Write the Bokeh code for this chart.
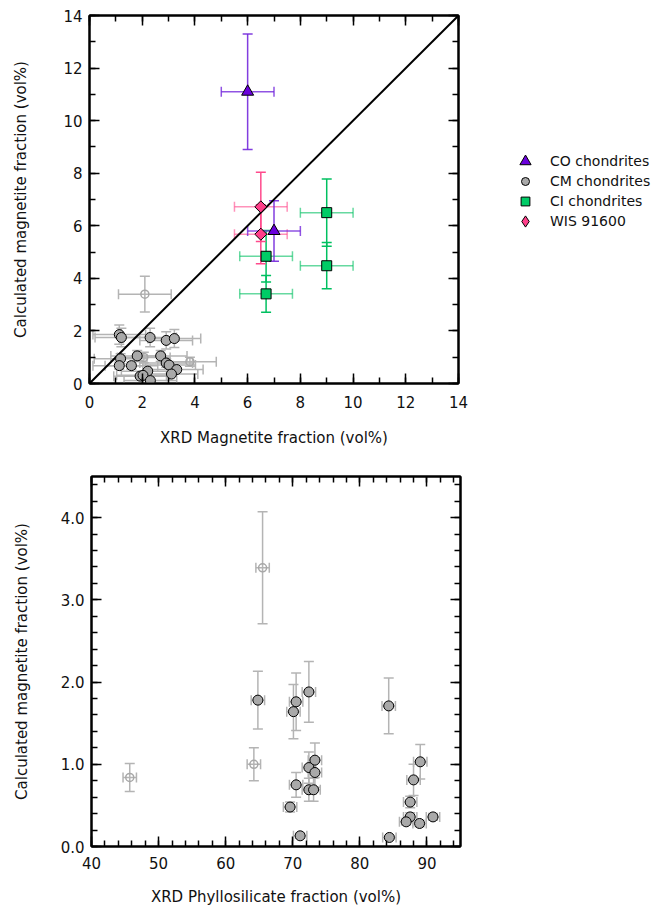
import numpy as np
from bokeh.plotting import figure
from bokeh.models import (ColumnDataSource, Whisker, TeeHead, LinearAxis, SingleIntervalTicker,
                          Legend, LegendItem, Range1d, PrintfTickFormatter, CustomJSTickFormatter)
from bokeh.layouts import column, row
from bokeh.embed import file_html
from bokeh.resources import INLINE

# ---------------- Top panel: XRD magnetite vs calculated magnetite (vol%) ----------------
co_x = [6.0, 7.0]
co_y = [11.1, 5.8]
co_xerr = [1.0, 1.0]
co_yerr = [2.2, 1.15]

ci_x = [9.0, 9.0, 6.7, 6.7]
ci_y = [6.5, 4.48, 4.84, 3.41]
ci_xerr = [1.0, 1.0, 1.0, 1.0]
ci_yerr = [1.28, 0.88, 0.98, 0.70]

wis_x = [6.5, 6.5]
wis_y = [6.72, 5.68]
wis_xerr = [1.0, 1.0]
wis_yerr = [1.32, 1.12]

cm_x = [1.13, 1.21, 2.30, 2.91, 3.22, 1.18, 1.13, 1.59, 1.81, 2.70, 2.91, 3.02, 3.31, 2.21, 1.92, 2.03, 3.11, 2.31]
cm_y = [1.86, 1.75, 1.75, 1.64, 1.71, 0.94, 0.68, 0.68, 1.05, 1.05, 0.78, 0.70, 0.53, 0.47, 0.28, 0.31, 0.36, 0.11]
cm_xerr = [1.0, 1.0, 1.0, 1.0, 1.0, 1.0, 1.0, 1.0, 1.0, 1.0, 1.0, 1.0, 1.0, 1.0, 1.0, 1.0, 1.0, 1.0]
cm_yerr = [0.37, 0.35, 0.35, 0.33, 0.34, 0.19, 0.14, 0.14, 0.21, 0.21, 0.16, 0.14, 0.07, 0.06, 0.05, 0.06, 0.05, 0.03]

cmo_x = [2.10, 3.81, 2.06]
cmo_y = [3.40, 0.83, 0.99]
cmo_xerr = [1.0, 1.0, 1.0]
cmo_yerr = [0.68, 0.17, 0.20]

one_to_one = [0, 14]

legend_labels = ["CO chondrites", "CM chondrites", "CI chondrites", "WIS 91600"]

# ---------------- Bottom panel: XRD phyllosilicate vs calculated magnetite ----------------
ph_x = [64.8, 70.5, 70.1, 72.4, 84.3, 73.3, 72.4, 73.3, 70.5, 72.4, 73.1, 69.6, 71.1, 84.4,
        89.0, 88.0, 87.5, 87.5, 86.9, 88.9, 90.9]
ph_y = [1.78, 1.76, 1.64, 1.88, 1.71, 1.05, 0.96, 0.90, 0.75, 0.69, 0.69, 0.48, 0.13, 0.11,
        1.03, 0.81, 0.54, 0.36, 0.30, 0.28, 0.36]
ph_xerr = [1.0, 1.0, 1.0, 1.0, 1.0, 1.0, 1.0, 1.0, 1.0, 1.0, 1.0, 1.0, 1.0, 1.0,
           1.0, 1.0, 1.0, 1.0, 1.0, 1.0, 1.0]
ph_yerr = [0.35, 0.35, 0.33, 0.37, 0.34, 0.21, 0.19, 0.18, 0.15, 0.14, 0.14, 0.06, 0.03, 0.02,
           0.21, 0.19, 0.07, 0.05, 0.04, 0.04, 0.04]

pho_x = [45.7, 64.2, 65.5]
pho_y = [0.84, 1.00, 3.39]
pho_xerr = [1.0, 1.0, 1.0]
pho_yerr = [0.17, 0.20, 0.68]

FONT = "DejaVu Sans"
GRAY_BAR = "#b4b4b4"

# marker styles per group
ST_CO = dict(marker="triangle", size=12, fill_color="#6a00dc", line_color="black", line_width=1)
ST_CM = dict(marker="circle", size=10, fill_color="#a9a9a9", line_color="black", line_width=1)
ST_CI = dict(marker="square", size=10, fill_color="#00cc66", line_color="black", line_width=1)
ST_WIS = dict(marker="square", angle=np.pi / 4, size=8.5, fill_color="#ff3f8a",
              line_color="black", line_width=1)
# legend swatch styles (legend swatches ignore marker angle, so use the diamond marker)
LEG_WIS = dict(marker="diamond", fill_color="#ff3f8a", line_color="black", line_width=1)


def add_errors(p, x, y, xerr, yerr, vcolor, hcolor, valpha=1.0, halpha=1.0, lw=1.5):
    x = np.asarray(x, float); y = np.asarray(y, float)
    xe = np.asarray(xerr, float); ye = np.asarray(yerr, float)
    src = ColumnDataSource(dict(x=x, y=y, xl=x - xe, xu=x + xe, yl=y - ye, yu=y + ye))
    for dim, base, lo, up, col, al in (("height", "x", "yl", "yu", vcolor, valpha),
                                       ("width", "y", "xl", "xu", hcolor, halpha)):
        p.add_layout(Whisker(source=src, base=base, lower=lo, upper=up, dimension=dim,
                             line_color=col, line_width=lw, line_alpha=al,
                             upper_head=TeeHead(size=10, line_color=col, line_width=lw, line_alpha=al),
                             lower_head=TeeHead(size=10, line_color=col, line_width=lw, line_alpha=al)))
    return src


def style(p, xtick, ytick, xfmt=None, yfmt=None, xlabel="", ylabel="",
          ylab_standoff=30, xlab_standoff=18, xlbl_standoff=10):
    p.xgrid.visible = False
    p.ygrid.visible = False
    p.outline_line_color = "black"
    p.outline_line_width = 2
    p.background_fill_color = "white"
    p.border_fill_color = "white"
    p.xaxis.ticker = xtick
    p.yaxis.ticker = ytick
    if xfmt is not None:
        p.xaxis.formatter = xfmt
    if yfmt is not None:
        p.yaxis.formatter = yfmt
    p.xaxis.axis_label = xlabel
    p.yaxis.axis_label = ylabel
    p.xaxis.axis_label_standoff = xlab_standoff
    p.yaxis.axis_label_standoff = ylab_standoff
    p.xaxis.major_label_standoff = xlbl_standoff
    p.yaxis.major_label_standoff = 7
    for ax in (p.xaxis[0], p.yaxis[0]):
        ax.axis_label_text_font = FONT
        ax.axis_label_text_font_size = "15px"
        ax.axis_label_text_font_style = "normal"
        ax.axis_label_text_color = "#111111"
        ax.major_label_text_font = FONT
        ax.major_label_text_font_size = "15px"
        ax.major_label_text_color = "#111111"
    # mirrored axes (ticks only)
    blank = CustomJSTickFormatter(code="return ''")
    p.add_layout(LinearAxis(ticker=xtick, formatter=blank, major_label_standoff=0), "above")
    p.add_layout(LinearAxis(ticker=ytick, formatter=blank, major_label_standoff=0), "right")
    for ax in p.axis:
        ax.axis_line_color = "black"
        ax.axis_line_width = 2
        ax.major_tick_in = 10
        ax.major_tick_out = 0
        ax.minor_tick_in = 6
        ax.minor_tick_out = 0
        ax.major_tick_line_width = 1.5
        ax.minor_tick_line_width = 1.5
        ax.major_tick_line_color = "black"
        ax.minor_tick_line_color = "black"


# ---------------- top figure ----------------
p1 = figure(frame_width=369, frame_height=368, x_range=Range1d(0, 14), y_range=Range1d(0, 14),
            min_border_left=89, min_border_right=10, min_border_top=15, min_border_bottom=70,
            output_backend="svg", toolbar_location=None)
t2 = SingleIntervalTicker(interval=2, num_minor_ticks=2)
style(p1, t2, t2, xlabel="XRD Magnetite fraction (vol%)",
      ylabel="Calculated magnetite fraction (vol%)", ylab_standoff=30, xlbl_standoff=12)

s_cmo = add_errors(p1, cmo_x, cmo_y, cmo_xerr, cmo_yerr, GRAY_BAR, GRAY_BAR)
s_cm = add_errors(p1, cm_x, cm_y, cm_xerr, cm_yerr, GRAY_BAR, GRAY_BAR)
s_ci = add_errors(p1, ci_x, ci_y, ci_xerr, ci_yerr, "#00c060", "#00c060", 1.0, 0.6)
s_wis = add_errors(p1, wis_x, wis_y, wis_xerr, wis_yerr, "#ff4a8c", "#ff4a8c", 1.0, 0.6)
s_co = add_errors(p1, co_x, co_y, co_xerr, co_yerr, "#7428dc", "#7428dc", 0.9, 0.8)

p1.line(one_to_one, one_to_one, line_color="black", line_width=2)

p1.scatter("x", "y", source=s_cmo, marker="circle", size=8, fill_alpha=0,
           line_color="#a8a8a8", line_width=1.5)
p1.scatter("x", "y", source=s_cm, **ST_CM)
p1.scatter("x", "y", source=s_ci, **ST_CI)
p1.scatter("x", "y", source=s_wis, **ST_WIS)
p1.scatter("x", "y", source=s_co, **ST_CO)

# ---------------- legend panel (to the right of the top plot) ----------------
# The legend proxies reuse the group data, which lies outside this panel's ranges,
# so only the legend swatches are visible here.
PANEL_X0 = 468          # left edge of legend panel (px)
FRAME_BOTTOM = 383      # bottom of plotting frame (px)
SWATCH_CX = 525         # centre of legend swatches (px)
TEXT_X = 550            # start of legend text (px)
row_centres = [161, 181, 201, 221]
swatch_boxes = [28, 20, 22, 28]

pl = figure(frame_width=194, frame_height=368, x_range=Range1d(-100, -99), y_range=Range1d(-100, -99),
            min_border_left=0, min_border_right=0, min_border_top=15, min_border_bottom=70,
            x_axis_type=None, y_axis_type=None, output_backend="svg", toolbar_location=None)
pl.outline_line_color = None
pl.xgrid.visible = False
pl.ygrid.visible = False
for lab, src, st, cy, b in zip(legend_labels, (s_co, s_cm, s_ci, s_wis),
                               (ST_CO, ST_CM, ST_CI, LEG_WIS), row_centres, swatch_boxes):
    st = {k: v for k, v in st.items() if k not in ("size", "angle")}
    r = pl.scatter("x", "y", source=ColumnDataSource(dict(x=src.data["x"], y=src.data["y"])), **st)
    leg = Legend(items=[LegendItem(label=lab, renderers=[r])],
                 location=(SWATCH_CX - b / 2 - PANEL_X0, FRAME_BOTTOM - (cy + b / 2)),
                 orientation="vertical",
                 glyph_width=b, glyph_height=b, label_height=b, spacing=0,
                 padding=0, margin=0, label_standoff=int(TEXT_X - SWATCH_CX - b / 2),
                 border_line_alpha=0, background_fill_alpha=0,
                 label_text_font=FONT, label_text_font_size="14px", label_text_color="#111111")
    pl.add_layout(leg)

# ---------------- bottom figure ----------------
p2 = figure(frame_width=369, frame_height=370, x_range=Range1d(40, 95), y_range=Range1d(0, 4.5),
            min_border_left=91, min_border_right=20, min_border_top=23, min_border_bottom=63,
            output_backend="svg", toolbar_location=None)
style(p2, SingleIntervalTicker(interval=10, num_minor_ticks=5),
      SingleIntervalTicker(interval=1, num_minor_ticks=5),
      yfmt=PrintfTickFormatter(format="%.1f"),
      xlabel="XRD Phyllosilicate fraction (vol%)",
      ylabel="Calculated magnetite fraction (vol%)", ylab_standoff=27, xlbl_standoff=10,
      xlab_standoff=16)

s_pho = add_errors(p2, pho_x, pho_y, pho_xerr, pho_yerr, GRAY_BAR, GRAY_BAR)
s_ph = add_errors(p2, ph_x, ph_y, ph_xerr, ph_yerr, GRAY_BAR, GRAY_BAR)
p2.scatter("x", "y", source=s_pho, marker="circle", size=8, fill_alpha=0,
           line_color="#a8a8a8", line_width=1.5)
p2.scatter("x", "y", source=s_ph, **ST_CM)

layout = column(row(p1, pl, spacing=0), p2, spacing=0)
open("out.html", "w").write(file_html(layout, INLINE))
